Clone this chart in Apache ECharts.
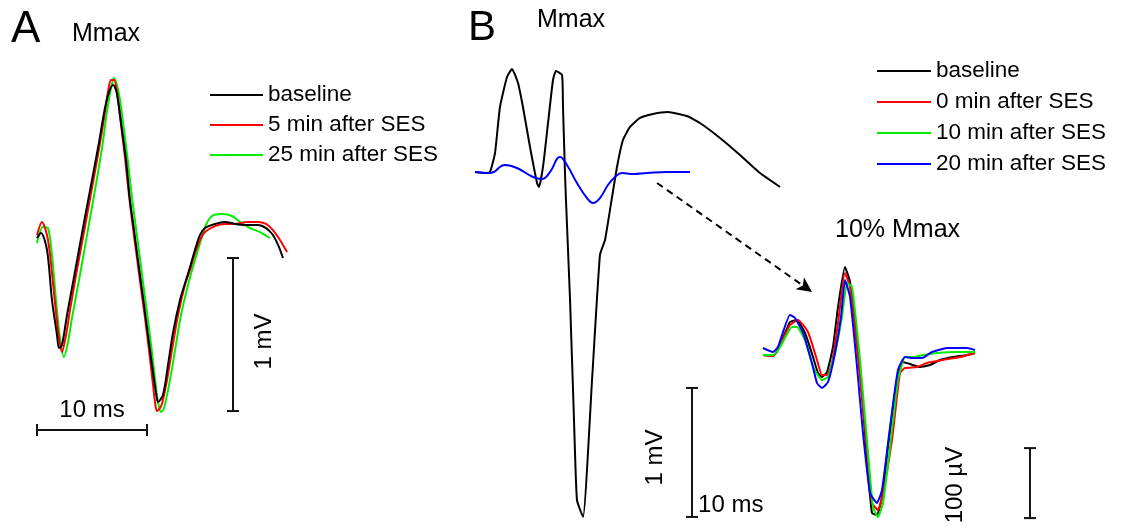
<!DOCTYPE html>
<html>
<head>
<meta charset="utf-8">
<script src="https://cdn.jsdelivr.net/npm/echarts@6/dist/echarts.min.js"></script>
<style>
  html, body { margin: 0; padding: 0; background: #fff; }
  #chart { width: 1126px; height: 531px; }
</style>
</head>
<body>
<div id="chart"></div>
<script>
// ---- Panel A: Mmax traces, [time (ms), amplitude (mV)] ----
const aBaseline = [
  [0, 0], [0.36, 0.033], [0.91, -0.078], [1.36, -0.405], [1.82, -0.634], [2.0, -0.719],
  [2.27, -0.699], [2.73, -0.503], [3.45, -0.222], [4.18, 0.065], [4.91, 0.346], [5.64, 0.627],
  [6.18, 0.85], [6.55, 0.954], [6.91, 1.0], [7.18, 0.967], [7.36, 0.902], [7.73, 0.706],
  [8.09, 0.51], [8.45, 0.248], [8.82, 0.052], [9.18, -0.144], [9.55, -0.34], [9.91, -0.536],
  [10.27, -0.732], [10.64, -0.928], [10.82, -1.013], [11.0, -1.072], [11.45, -1.026], [11.91, -0.83],
  [12.36, -0.621], [13.0, -0.405], [13.55, -0.275], [13.91, -0.19], [14.36, -0.078], [14.82, 0.02],
  [15.27, 0.065], [16.18, 0.092], [17.09, 0.105], [18.0, 0.092], [18.91, 0.085], [20.09, 0.085],
  [20.82, 0.065], [21.45, 0.02], [22.0, -0.059], [22.36, -0.131]
];
const aMin5 = [
  [0, 0.02], [0.45, 0.105], [1.0, -0.013], [1.45, -0.294], [1.91, -0.601], [2.27, -0.745],
  [2.64, -0.634], [3.0, -0.471], [3.55, -0.242], [4.27, 0.039], [5.0, 0.327], [5.73, 0.621],
  [6.18, 0.824], [6.45, 0.954], [6.73, 1.033], [7.0, 1.033], [7.27, 0.954], [7.64, 0.739],
  [8.0, 0.523], [8.36, 0.281], [8.73, 0.065], [9.09, -0.131], [9.45, -0.327], [9.82, -0.523],
  [10.18, -0.732], [10.55, -0.961], [10.73, -1.072], [10.91, -1.131], [11.18, -1.111], [11.36, -1.085],
  [11.82, -0.928], [12.27, -0.732], [12.82, -0.503], [13.45, -0.307], [13.91, -0.209], [14.36, -0.098],
  [14.82, -0.013], [15.27, 0.039], [16.18, 0.078], [17.09, 0.092], [18.0, 0.092], [19.09, 0.105],
  [20.09, 0.105], [20.82, 0.092], [21.45, 0.052], [22.09, -0.013], [22.73, -0.092]
];
const aMin25 = [
  [0, -0.033], [0.55, 0.072], [1.0, 0.065], [1.36, -0.111], [1.73, -0.405], [2.09, -0.654],
  [2.45, -0.778], [2.82, -0.68], [3.18, -0.523], [3.82, -0.275], [4.55, 0.02], [5.27, 0.314],
  [5.91, 0.588], [6.36, 0.824], [6.73, 0.98], [7.0, 1.046], [7.27, 1.0], [7.55, 0.902],
  [7.91, 0.706], [8.27, 0.497], [8.64, 0.261], [9.0, 0.065], [9.36, -0.131], [9.73, -0.34],
  [10.09, -0.536], [10.45, -0.745], [10.82, -0.974], [11.0, -1.072], [11.27, -1.137], [11.55, -1.111],
  [12.09, -0.928], [12.55, -0.732], [13.09, -0.503], [13.73, -0.307], [14.36, -0.144], [14.91, -0.013],
  [15.36, 0.085], [15.91, 0.144], [16.82, 0.157], [17.73, 0.144], [18.45, 0.105], [19.36, 0.065],
  [20.27, 0.039], [21.18, 0]
];

// ---- Panel B: Mmax traces, [time (ms), amplitude (mV)] ----
const bMaxBaseline = [
  [0, 0], [0.91, -0.008], [1.36, 0], [1.82, 0.147], [2.27, 0.504], [2.91, 0.736], [3.36, 0.798],
  [3.91, 0.69], [4.36, 0.504], [5.0, 0.194], [5.64, -0.085], [5.82, -0.116], [6.18, 0.039],
  [6.64, 0.38], [7.09, 0.713], [7.36, 0.783], [7.91, 0.752], [8.0, 0.504], [8.18, -0.008],
  [8.27, -0.217], [8.64, -0.992], [9.0, -1.922], [9.27, -2.543], [9.82, -2.674], [10.64, -1.612],
  [11.36, -0.643], [11.82, -0.527], [12.27, -0.295], [12.91, 0.039], [13.45, 0.248], [14.09, 0.349],
  [15.0, 0.419], [16.18, 0.45], [17.55, 0.465], [19.27, 0.434], [20.45, 0.38], [22.27, 0.264],
  [24.09, 0.132], [25.91, -0.008], [27.73, -0.116]
];
const bMaxMin20 = [
  [0, 0], [1.36, -0.008], [2.73, 0.054], [3.82, 0.031], [5.27, -0.039], [6.09, -0.054],
  [6.82, 0], [7.73, 0.116], [8.36, 0.054], [9.27, -0.085], [10.18, -0.202], [10.73, -0.24],
  [11.36, -0.202], [12.09, -0.101], [12.73, -0.039], [13.36, -0.008], [14.36, -0.016],
  [15.64, -0.008], [17.45, 0], [19.55, 0]
];

// ---- Panel B: 10% Mmax traces, [time (ms), amplitude (µV)] ----
const bSubBaseline = [
  [0, 0], [0.91, -1.4], [1.36, 7.1], [2.45, 47.1], [3.09, 50.0], [3.82, 31.4], [4.55, -2.9],
  [5.0, -25.7], [5.36, -31.4], [5.82, -24.3], [6.36, 11.4], [6.82, 68.6], [7.45, 125.7],
  [7.91, 104.3], [8.55, 21.4], [9.09, -74.3], [9.55, -168.6], [9.91, -225.7], [10.36, -228.6],
  [10.82, -202.9], [11.36, -131.4], [12.18, -35.7], [12.73, -10.0], [13.36, -12.9], [14.27, -17.1],
  [15.18, -14.3], [16.09, -7.1], [17.27, -2.9], [18.55, 0], [19.27, 2.9]
];
const bSubMin0 = [
  [0, 0], [0.91, -1.4], [2.45, 42.9], [3.18, 50.0], [4.09, 32.9], [4.91, -7.1], [5.36, -28.6],
  [5.82, -28.6], [6.27, -11.4], [6.82, 45.7], [7.45, 117.1], [7.91, 97.1], [8.64, -2.9],
  [9.27, -102.9], [9.91, -211.4], [10.45, -221.4], [10.91, -197.1], [11.73, -121.4], [12.45, -25.7],
  [12.91, -18.6], [14.0, -17.1], [14.91, -11.4], [16.36, -7.1], [17.91, -2.9], [19.27, 2.9]
];
const bSubMin10 = [
  [0, 0], [0.91, 0], [1.55, 11.4], [2.64, 40.0], [3.09, 40.0], [3.82, 21.4], [4.55, -17.1],
  [5.36, -35.7], [5.91, -31.4], [6.55, 2.9], [7.18, 54.3], [7.64, 102.9], [8.09, 97.1],
  [8.82, -7.1], [9.45, -121.4], [10.0, -217.1], [10.45, -231.4], [10.91, -211.4], [11.55, -131.4],
  [12.27, -35.7], [12.91, -2.9], [13.64, -2.9], [14.55, 0], [15.82, 2.9], [17.64, 4.3], [19.27, 4.3]
];
const bSubMin20 = [
  [0, 10.0], [0.91, 4.3], [1.36, 11.4], [2.45, 57.1], [2.91, 52.9], [3.64, 31.4], [4.45, -11.4],
  [4.91, -40.0], [5.36, -47.1], [5.91, -38.6], [6.55, 2.9], [7.09, 54.3], [7.45, 107.1],
  [7.91, 82.9], [8.55, -17.1], [9.09, -111.4], [9.73, -197.1], [10.36, -211.4], [10.82, -192.9],
  [11.55, -102.9], [12.27, -21.4], [12.91, -2.9], [13.64, -4.3], [14.45, -4.3], [15.36, 4.3],
  [16.73, 10.0], [18.55, 10.0], [19.27, 7.1]
];

// ---- Scale bars, [time, amplitude] end points in each panel's units ----
const aTimeBar = [[0, -1.255], [10, -1.255]];          // 10 ms
const aVoltBar = [[17.82, -0.131], [17.82, -1.131]];   // 1 mV
const bMaxVoltBar = [[19.73, -1.674], [19.73, -2.674]]; // 1 mV
const bSubVoltBar = [[24.27, -133], [24.27, -233]];     // 100 µV

// Dashed arrow from the Mmax record towards the 10% Mmax record
const zoomArrow = [[16.55, -0.085], [30.64, -0.93]];

const legendA = ['baseline', '5 min after SES', '25 min after SES'];
const legendB = ['baseline', '0 min after SES', '10 min after SES', '20 min after SES'];

const FONT = '"Liberation Sans", Arial, Helvetica, sans-serif';
const BLACK = '#000000', RED = '#ff0000', GREEN = '#00ee00', BLUE = '#0000ff';

function trace(name, data, color, gridIndex, smooth, z) {
  return {
    type: 'line', name, data, xAxisIndex: gridIndex, yAxisIndex: gridIndex,
    showSymbol: false, smooth, z, animation: false, silent: true,
    lineStyle: { color, width: 2 }, itemStyle: { color }
  };
}

// A scale bar with end caps; labels are placed relative to the bar midpoint or its end
function scaleBar(gridIndex, pts, labels) {
  return {
    type: 'custom', xAxisIndex: gridIndex, yAxisIndex: gridIndex, clip: false, silent: true,
    animation: false, z: 5,
    data: [[pts[0][0], pts[0][1], pts[1][0], pts[1][1]]],
    encode: { x: [0, 2], y: [1, 3] },
    renderItem(params, api) {
      const p1 = api.coord([api.value(0), api.value(1)]);
      const p2 = api.coord([api.value(2), api.value(3)]);
      const vertical = Math.abs(p1[0] - p2[0]) < Math.abs(p1[1] - p2[1]);
      const cap = 6;
      const capShape = p => vertical
        ? { x1: p[0] - cap, y1: p[1], x2: p[0] + cap, y2: p[1] }
        : { x1: p[0], y1: p[1] - cap, x2: p[0], y2: p[1] + cap };
      const style = { stroke: '#111', lineWidth: 2 };
      const children = [
        { type: 'line', shape: { x1: p1[0], y1: p1[1], x2: p2[0], y2: p2[1] }, style },
        { type: 'line', shape: capShape(p1), style },
        { type: 'line', shape: capShape(p2), style }
      ];
      const mid = [(p1[0] + p2[0]) / 2, (p1[1] + p2[1]) / 2];
      labels.forEach(l => {
        const base = l.anchor === 'end' ? p2 : mid;
        children.push({
          type: 'text', x: base[0] + l.dx, y: base[1] + l.dy,
          rotation: l.rotate ? Math.PI / 2 : 0,
          style: {
            text: l.text, fill: '#000', font: l.size + 'px ' + FONT,
            align: l.align || 'center', verticalAlign: 'middle'
          }
        });
      });
      return { type: 'group', children };
    }
  };
}

function hiddenAxis(gridIndex, min, max) {
  return { type: 'value', gridIndex, min, max, show: false, splitLine: { show: false } };
}

const chart = echarts.init(document.getElementById('chart'), null, { renderer: 'canvas' });

const legendCommon = {
  orient: 'vertical', icon: 'rect', itemHeight: 2, itemGap: 0, selectedMode: false, padding: 0,
  textStyle: { fontFamily: FONT, fontSize: 22.5, color: '#000', padding: 0 }
};

chart.setOption({
  backgroundColor: '#ffffff',
  animation: false,
  grid: [
    { left: 37, top: 54.4, width: 275, height: 397.8 },   // A: 11 px/ms, 153 px/mV
    { left: 475, top: 43, width: 363, height: 483.75 },   // B Mmax: 11 px/ms, 129 px/mV
    { left: 763, top: 215, width: 286, height: 315 }      // B 10% Mmax: 11 px/ms, 0.7 px/µV
  ],
  xAxis: [hiddenAxis(0, 0, 25), hiddenAxis(1, 0, 33), hiddenAxis(2, 0, 26)],
  yAxis: [hiddenAxis(0, -1.4, 1.2), hiddenAxis(1, -2.75, 1.0), hiddenAxis(2, -250, 200)],
  legend: [
    Object.assign({}, legendCommon, {
      data: legendA, left: 210, top: 80, itemWidth: 53,
      textStyle: Object.assign({}, legendCommon.textStyle, { lineHeight: 30 })
    }),
    Object.assign({}, legendCommon, {
      data: legendB, left: 877, top: 55.5, itemWidth: 54,
      textStyle: Object.assign({}, legendCommon.textStyle, { lineHeight: 31 })
    })
  ],
  graphic: [
    { type: 'text', x: 11, y: 30, style: { text: 'A', font: '44px ' + FONT, fill: '#000', align: 'left', verticalAlign: 'middle' } },
    { type: 'text', x: 72, y: 34, style: { text: 'Mmax', font: '25px ' + FONT, fill: '#000', align: 'left', verticalAlign: 'middle' } },
    { type: 'text', x: 468, y: 28, style: { text: 'B', font: '42px ' + FONT, fill: '#000', align: 'left', verticalAlign: 'middle' } },
    { type: 'text', x: 537, y: 20, style: { text: 'Mmax', font: '25px ' + FONT, fill: '#000', align: 'left', verticalAlign: 'middle' } },
    { type: 'text', x: 835, y: 230, style: { text: '10% Mmax', font: '25px ' + FONT, fill: '#000', align: 'left', verticalAlign: 'middle' } }
  ],
  series: [
    // Panel A
    trace('25 min after SES', aMin25, GREEN, 0, 0.3, 2),
    trace('5 min after SES', aMin5, RED, 0, 0.3, 3),
    trace('baseline', aBaseline, BLACK, 0, 0.3, 4),
    scaleBar(0, aTimeBar, [{ text: '10 ms', dx: 0, dy: -20, size: 24 }]),
    scaleBar(0, aVoltBar, [{ text: '1 mV', dx: 31, dy: 7, size: 24, rotate: true }]),

    // Panel B, Mmax
    trace('baseline', bMaxBaseline, BLACK, 1, 0.15, 3),
    Object.assign(trace('20 min after SES', bMaxMin20, BLUE, 1, 0.45, 4), {
      markLine: {
        silent: true, animation: false,
        symbol: ['none', 'arrow'], symbolSize: [11, 15],
        label: { show: false },
        lineStyle: { color: '#000', width: 2, type: [7, 5] },
        emphasis: { disabled: true },
        data: [[{ coord: zoomArrow[0] }, { coord: zoomArrow[1] }]]
      }
    }),
    scaleBar(1, bMaxVoltBar, [
      { text: '1 mV', dx: -37, dy: 5, size: 24, rotate: true },
      { text: '10 ms', anchor: 'end', dx: 6, dy: -12, size: 24, align: 'left' }
    ]),

    // Panel B, 10% Mmax
    trace('baseline', bSubBaseline, BLACK, 2, 0.15, 2),
    trace('0 min after SES', bSubMin0, RED, 2, 0.15, 3),
    trace('10 min after SES', bSubMin10, GREEN, 2, 0.15, 4),
    trace('20 min after SES', bSubMin20, BLUE, 2, 0.15, 5),
    scaleBar(2, bSubVoltBar, [{ text: '100 µV', dx: -75, dy: 2, size: 24, rotate: true }])
  ]
});
</script>
</body>
</html>
